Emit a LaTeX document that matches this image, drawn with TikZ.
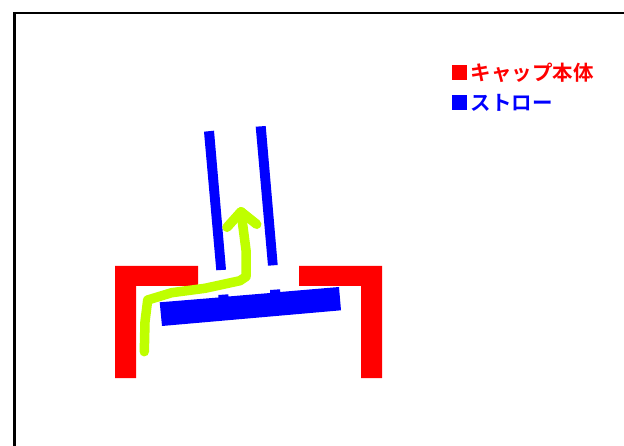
\documentclass[tikz,border=0pt]{standalone}
\usepackage{fontspec}
\usepackage{tikz}
\usetikzlibrary{positioning}
\newfontfamily\capjp{Noto Sans CJK JP}[BoldFont={Noto Sans CJK JP Bold}]
\definecolor{capred}  {HTML}{FF0000}
\definecolor{strawblue}{HTML}{0000FF}
\definecolor{flowlime}{HTML}{BFFF00}
\tikzset{
  capbody/.style={fill=capred, draw=none},
  strawpart/.style={fill=strawblue, draw=none},
  flowline/.style={draw=flowlime, line width=9.5pt, line cap=round, line join=round},
  legendbox/.style={minimum width=15pt, minimum height=15pt, inner sep=0pt, outer sep=0pt},
  legendtext/.style={font=\capjp\bfseries\fontsize{20.5}{21}\selectfont, inner sep=0pt, anchor=west},
}
\begin{document}
\begin{tikzpicture}[x=1pt,y=-1pt]
  \useasboundingbox (0,0) rectangle (624,446);
  % frame
  \draw[black, line width=2.4pt] (14.5,446) -- (14.5,13.3) -- (624,13.3);
  % cap
  \fill[capbody] (115,378) -- (115,266) -- (198,266) -- (198,286) -- (136,286) -- (136,378) -- cycle;
  \fill[capbody] (382,378) -- (382,266) -- (299,266) -- (299,286) -- (361,286) -- (361,378) -- cycle;
  % straw
  \fill[strawpart] (204,131.7) -- (214,130.7) -- (226,269.7) -- (216.3,270.3) -- cycle;
  \fill[strawpart] (255.7,126.7) -- (265.7,126) -- (277.7,265) -- (268,265.7) -- cycle;
  \fill[strawpart] (159.7,302.3) -- (218.3,297.5) -- (218.3,295) -- (228.3,294.3) -- (228.3,296.5)
    -- (270,293) -- (270,290) -- (280,289.3) -- (280,292) -- (339,287) -- (341,310.3) -- (162,326) -- cycle;
  % flow
  \draw[flowline] (144.3,351.7) -- (145,321.7) -- (147.7,300) -- (171.7,292.7) -- (205,288.3)
    -- (240,280.7) -- (246,276.7) -- (246,250) -- (241,211.7);
  \draw[flowline] (227,227.3) -- (241,211.7) -- (256.7,224.3);
  % legend
  \node[legendbox,fill=capred] (capbox) at (459.5,72.5) {};
  \node[legendbox,fill=strawblue] (strawbox) at (459.5,102.5) {};
  \node[legendtext,text=capred,right=3.5pt of capbox,yshift=-0.7pt] (captext) {キャップ本体};
  \node[legendtext,text=strawblue,right=3.5pt of strawbox,yshift=-0.7pt] (strawtext) {ストロー};
\end{tikzpicture}
\end{document}
